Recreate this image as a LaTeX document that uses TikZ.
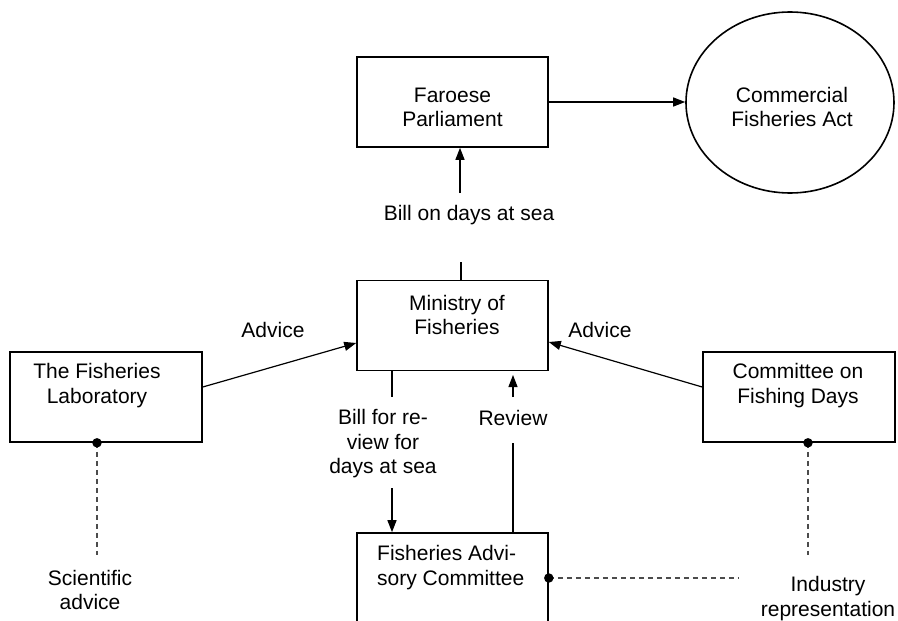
\documentclass[tikz,border=0pt]{standalone}
\usepackage{fontspec}
\setmainfont{Liberation Sans}
\usetikzlibrary{arrows.meta,calc,shapes.geometric}
\newcommand\labfont{\fontsize{21}{24.5}\selectfont}
\begin{document}
\begin{tikzpicture}[x=1pt,y=-1pt,
  box/.style={draw, line width=1.6pt, minimum width=191pt, minimum height=90pt, inner sep=0pt},
  txt/.style={font=\labfont, align=center, inner sep=0pt},
  conn/.style={line width=1.2pt},
  arr/.style={conn, -{Triangle[length=12pt,width=9pt]}},
  dashline/.style={line width=1.1pt, dash pattern=on 5pt off 4pt, black!70},
  dot/.style={circle, fill, inner sep=0pt, minimum size=9.5pt}]
\useasboundingbox (0,0) rectangle (898,621);
\clip (0,0) rectangle (898,621);

% boxes
\node[box] (parl) at (452.5,102) {};
\node[txt] (parlT) at (452.5,107.5) {Faroese\\Parliament};
\node[draw, ellipse, line width=1.6pt, minimum width=208pt, minimum height=181pt, inner sep=0pt] (act) at (790,102.5) {};
\node[txt] (actT) at (792,107) {Commercial\\Fisheries Act};
\node[box] (min) at (452.5,325.5) {};
\node[txt] (minT) at (457,315) {Ministry of\\Fisheries};
\node[box, minimum width=192pt] (lab) at (106,397) {};
\node[txt] (labT) at (97,385.5) {The Fisheries\\Laboratory};
\node[box, minimum width=192pt] (cfd) at (799,397) {};
\node[txt] (cfdT) at (798,385.5) {Committee on\\Fishing Days};
\node[box, minimum height=130pt] (adv) at (452.5,598) {};
\node[txt, align=left, anchor=west] (advT) at (377,567.5) {Fisheries Advi-\\sory Committee};

% parliament -> act
\draw[arr] (parl.east) -- (parl.east -| act.west);

% bill on days at sea
\node[txt] (billsea) at (469,215) {Bill on days at sea};
\coordinate (t1) at (461,262);
\draw[conn] (min.north -| t1) -- (t1);
\coordinate (a1) at (460,193);
\draw[arr] (a1) -- (parl.south -| a1);

% advice arrows
\draw[arr] ([yshift=10pt]lab.east) -- ([yshift=-17.5pt]min.west);
\node[txt] (adv1) at (273,330) {Advice};
\draw[arr] ([yshift=10pt]cfd.west) -- ([yshift=-16.5pt]min.east);
\node[txt] (adv2) at (600,330) {Advice};

% bill for review
\coordinate (t2) at (392,397);
\draw[conn] (min.south -| t2) -- (t2);
\node[txt] (billrev) at (383,444) {Bill for re-\\view for\\days at sea};
\coordinate (a2) at (392,488);
\draw[arr] (a2) -- (adv.north -| a2);

% review
\coordinate (r1) at (513,443);
\draw[conn] (adv.north -| r1) -- (r1);
\coordinate (r2) at (513,397);
\coordinate (r3) at (513,375);
\draw[arr] (r2) -- (r3);
\node[txt] (rev) at (513,418) {Review};

% dashed links
\coordinate (e1) at (97,555);
\draw[dashline] (lab.south -| e1) -- (e1);
\node[dot] (d1) at (lab.south -| e1) {};
\node[txt] (sci) at (90,590) {Scientific\\advice};

\coordinate (e2) at (808,555);
\draw[dashline] (cfd.south -| e2) -- (e2);
\node[dot] (d2) at (cfd.south -| e2) {};

\coordinate (e3) at (738,578);
\draw[dashline] (adv.east |- e3) -- (e3);
\node[dot] (d3) at (adv.east |- e3) {};
\node[txt] (ind) at (828,598.5) {Industry\\representation};
\end{tikzpicture}
\end{document}
